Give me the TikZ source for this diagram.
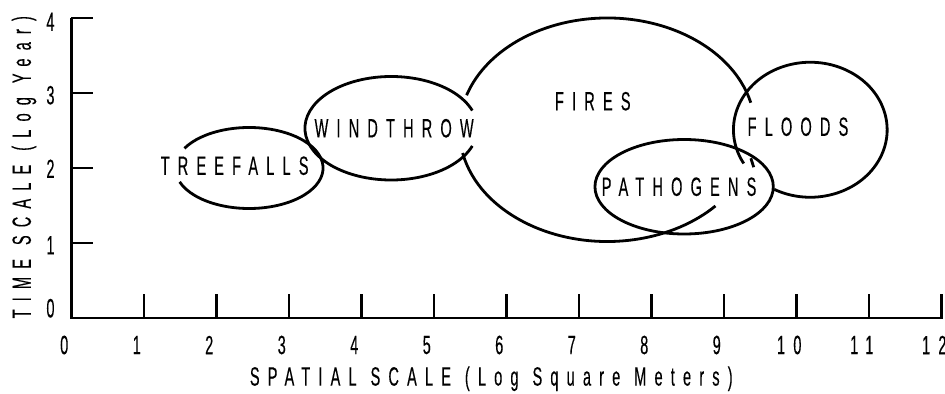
\documentclass[tikz,border=0pt]{standalone}
\usepackage{fontspec}
\setmainfont{Liberation Sans}
\newfontfamily\narrowfont[FakeStretch=0.55,LetterSpace=31,FakeBold=0.25]{Liberation Sans}

\begin{document}
\begin{tikzpicture}[x=36.25pt, y=37.5pt,
          lbl/.style={font=\narrowfont\fontsize{13.2pt}{15pt}\selectfont,
                      execute at begin node={\spaceskip=7pt plus 1pt\relax},
                      inner sep=0pt},
          axis/.style={line width=1.4pt},
          curve/.style={line width=1.4pt}
        ]
        \useasboundingbox (-0.986,-1.013) rectangle (12.048,4.24);

        % Axes
        \draw[axis] (0,4) -- (0,0) -- (12.02,0);
        \foreach \y in {1,...,4}
          \draw[axis] (0,\y) -- (0.3,\y);
        \foreach \x in {1,...,12}
          \draw[axis] (\x,0) -- (\x,0.32);

        \foreach \x in {0,...,12}
          \node[lbl] (xl\x) at (\x-0.1,-0.36) {\x};
        \foreach \y/\yy in {0/0.13, 1/0.97, 2/1.99, 3/2.97, 4/3.95}
          \node[lbl] (yl\y) at (-0.29,\yy) {\y};

        \node[lbl] (xtitle) at (5.79,-0.81) {SPATIAL SCALE (Log Square Meters)};
        \node[lbl, rotate=90] (ytitle) at (-0.655,2.01) {TIME SCALE (Log Year)};

        % Disturbance regimes
        \coordinate (treeC)  at (2.45,2.0);
        \coordinate (windC)  at (4.41,2.53);
        \coordinate (fireC)  at (7.39,2.51);
        \coordinate (pathC)  at (8.45,1.75);
        \coordinate (floodC) at (10.19,2.51);

        \draw[curve] ([shift={(-160:1.02 and 0.54)}]treeC)
              arc[start angle=-160, end angle=151, x radius=1.02, y radius=0.54];
        \draw[curve] ([shift={(20:1.19 and 0.69)}]windC)
              arc[start angle=20, end angle=340, x radius=1.19, y radius=0.69];
        \draw[curve] ([shift={(14:2.04 and 1.49)}]fireC)
              arc[start angle=14, end angle=162, x radius=2.04, y radius=1.49];
        \draw[curve] ([shift={(192:2.04 and 1.49)}]fireC)
              arc[start angle=192, end angle=317, x radius=2.04, y radius=1.49];
        \draw[curve] (pathC) ellipse[x radius=1.23, y radius=0.63];
        \draw[curve] ([shift={(242:1.06 and 0.9)}]floodC)
              arc[start angle=242, end angle=570, x radius=1.06, y radius=0.9];
        \coordinate (hookA) at (9.37,2.13);
        \coordinate (hookB) at (9.41,2.01);
        \draw[curve] (hookA) -- (hookB);

        \node[lbl] (tree)  at (2.25,2.03) {TREEFALLS};
        \node[lbl] (wind)  at (4.45,2.53) {WINDTHROW};
        \node[lbl] (fire)  at (7.19,2.89) {FIRES};
        \node[lbl] (flood) at (10.02,2.55) {FLOODS};
        \node[lbl] (path)  at (8.38,1.75) {PATHOGENS};
      \end{tikzpicture}
\end{document}
